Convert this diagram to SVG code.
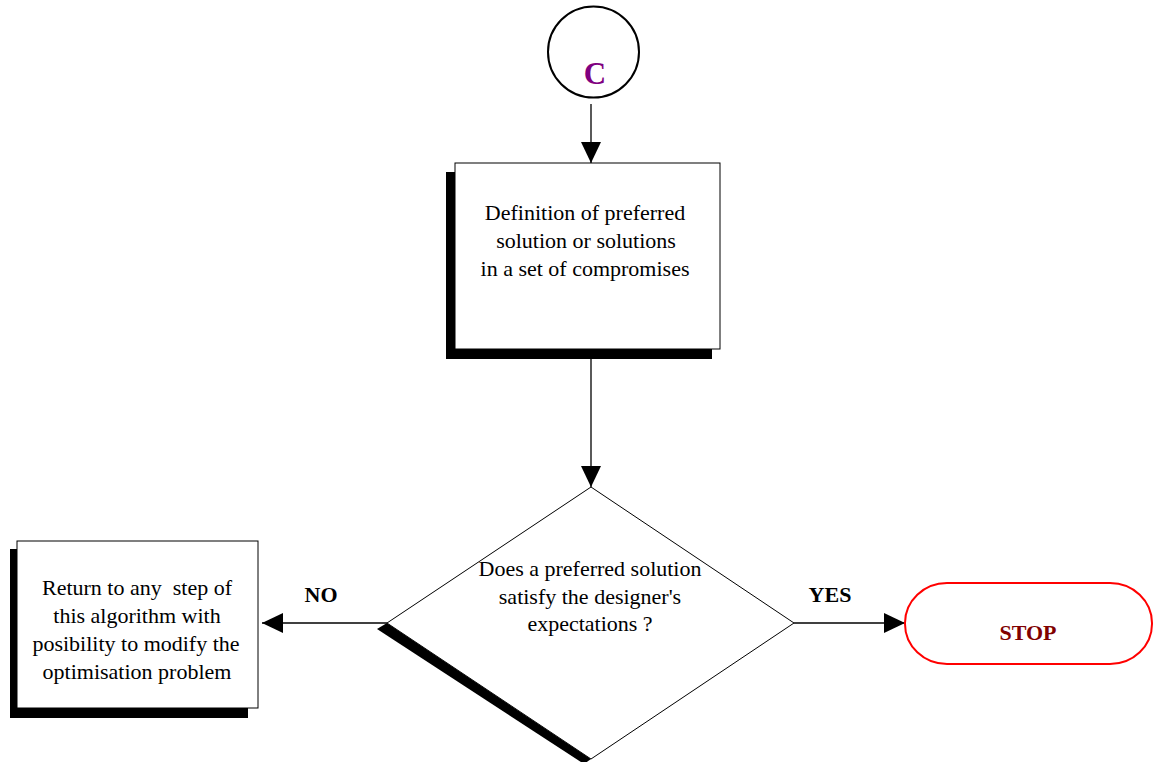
<svg xmlns="http://www.w3.org/2000/svg" width="1154" height="762" viewBox="0 0 1154 762">
<style>
.t{font-family:"Liberation Serif","Times New Roman",serif;font-size:22px;fill:#000;text-anchor:middle}
.b{font-family:"Liberation Serif","Times New Roman",serif;font-weight:bold;text-anchor:middle}
.box{fill:#fff;stroke:#000;stroke-width:1}
.sh{fill:#000}
.ln{stroke:#000;stroke-width:1.3;fill:none}
</style>
<defs>
<marker id="ah" markerUnits="userSpaceOnUse" markerWidth="22" markerHeight="20" viewBox="0 0 22 20" refX="21" refY="10" orient="auto">
<path d="M0,0 L21,10 L0,20 Z" fill="#000"/>
</marker>
</defs>
<rect width="1154" height="762" fill="#fff"/>
<g id="connectors">
<line class="ln" x1="591" y1="104" x2="591" y2="163" marker-end="url(#ah)"/>
<line class="ln" x1="591" y1="349" x2="591" y2="487" marker-end="url(#ah)"/>
<line class="ln" x1="387" y1="623" x2="262" y2="623" marker-end="url(#ah)"/>
<line class="ln" x1="794" y1="623" x2="905" y2="623" marker-end="url(#ah)"/>
<text class="b" x="321" y="602" font-size="22">NO</text>
<text class="b" x="830" y="602" font-size="22">YES</text>
</g>
<g id="node-c">
<circle cx="593.5" cy="52" r="45.5" fill="#fff" stroke="#000" stroke-width="2"/>
<text class="b" x="595" y="84" font-size="31" fill="#800080">C</text>
</g>
<g id="node-definition">
<rect class="sh" x="446" y="172" width="266" height="187"/>
<rect class="box" x="455" y="163" width="265" height="186"/>
<text class="t" x="585" y="220">Definition of preferred</text>
<text class="t" x="586" y="248">solution or solutions</text>
<text class="t" x="585" y="276">in a set of compromises</text>
</g>
<g id="node-decision">
<polygon class="sh" points="387,623 377,629 584,764 591,759"/>
<polygon class="box" points="591,487 794,623 591,759 387,623"/>
<text class="t" x="590" y="576">Does a preferred solution</text>
<text class="t" x="590" y="604">satisfy the designer's</text>
<text class="t" x="590" y="631">expectations ?</text>
</g>
<g id="node-return">
<rect class="sh" x="10" y="549" width="238" height="169"/>
<rect class="box" x="17" y="541" width="241" height="167"/>
<text class="t" x="137" y="595" style="white-space:pre">Return to any  step of</text>
<text class="t" x="137" y="623">this algorithm with</text>
<text class="t" x="136" y="651">posibility to modify the</text>
<text class="t" x="137" y="679">optimisation problem</text>
</g>
<g id="node-stop">
<rect x="905" y="583" width="247" height="81" rx="42" ry="40" fill="#fff" stroke="#ff0000" stroke-width="2"/>
<text class="b" x="1028" y="640" font-size="22" fill="#800000">STOP</text>
</g>
</svg>
